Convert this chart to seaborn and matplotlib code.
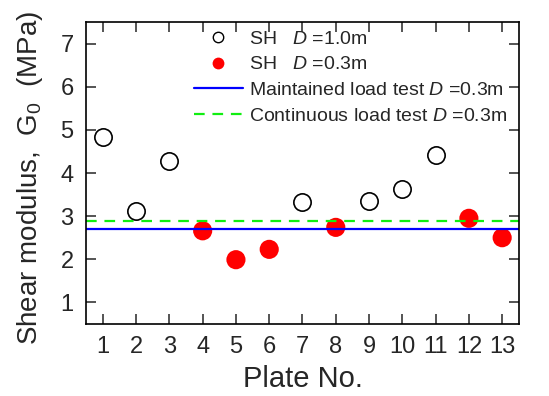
import numpy as np
import pandas as pd
import matplotlib
matplotlib.use('Agg')
import matplotlib.pyplot as plt
import seaborn as sns
from matplotlib.lines import Line2D

# data
plate_10 = [1, 2, 3, 7, 9, 10, 11]
g0_10 = [4.83, 3.12, 4.27, 3.33, 3.35, 3.62, 4.41]
plate_03 = [4, 5, 6, 8, 12, 13]
g0_03 = [2.66, 1.99, 2.23, 2.74, 2.95, 2.50]
maintained_g0 = 2.71
continuous_g0 = 2.88
xticks = list(range(1, 14))
yticks = [1, 2, 3, 4, 5, 6, 7]

sns.set_style('ticks')
plt.rcParams['font.family'] = ['Liberation Sans', 'DejaVu Sans']
plt.rcParams['mathtext.fontset'] = 'custom'
plt.rcParams['mathtext.rm'] = 'Liberation Sans'
plt.rcParams['mathtext.it'] = 'Liberation Sans:italic'

df10 = pd.DataFrame({'plate': plate_10, 'g0': g0_10})
df03 = pd.DataFrame({'plate': plate_03, 'g0': g0_03})

blue = '#0000ff'
green = '#11ee11'
dash = (0, (4.8, 3.5))

fig = plt.figure(figsize=(5.49, 3.96), dpi=100)
ax = fig.add_axes([0.157, 0.182, 0.788, 0.762])

ax.axhline(maintained_g0, color=blue, lw=1.6, zorder=2)
ax.axhline(continuous_g0, color=green, lw=1.6, ls=dash, zorder=2)

sns.scatterplot(data=df10, x='plate', y='g0', ax=ax, s=155, facecolor='white',
                edgecolor='black', linewidth=1.2, zorder=3)
sns.scatterplot(data=df03, x='plate', y='g0', ax=ax, s=190, color='#ff0000',
                edgecolor='none', linewidth=0, zorder=1)

ax.set_xlim(0.5, 13.5)
ax.set_ylim(0.5, 7.5)
ax.set_xticks(xticks)
ax.set_yticks(yticks)
ax.tick_params(direction='in', length=7, width=1.1, labelsize=17,
               top=True, right=True, pad=9)
for sp in ax.spines.values():
    sp.set_linewidth(1.2)
    sp.set_color('black')

ax.set_xlabel('Plate No.', fontsize=21, labelpad=5)
ax.set_ylabel('Shear modulus,  G$_0$  (MPa)', fontsize=20)
ax.yaxis.set_label_coords(-0.096, 0.483)

handles = [
    Line2D([], [], ls='none', marker='o', ms=7.5, mfc='white', mec='black', mew=1.0),
    Line2D([], [], ls='none', marker='o', ms=8.5, mfc='#ff0000', mec='none'),
    Line2D([], [], color=blue, lw=1.6),
    Line2D([], [], color=green, lw=1.6, ls=dash),
]
labels = ['SH   $\\it{D}$ =1.0m', 'SH   $\\it{D}$ =0.3m',
          'Maintained load test $\\it{D}$ =0.3m',
          'Continuous load test $\\it{D}$ =0.3m']
ax.legend(handles, labels, loc='upper right', frameon=False, fontsize=14,
          handlelength=2.5, handletextpad=0.3, labelspacing=0.42,
          borderaxespad=0.0, bbox_to_anchor=(0.99, 1.0))

fig.savefig('out.png', dpi=100)
